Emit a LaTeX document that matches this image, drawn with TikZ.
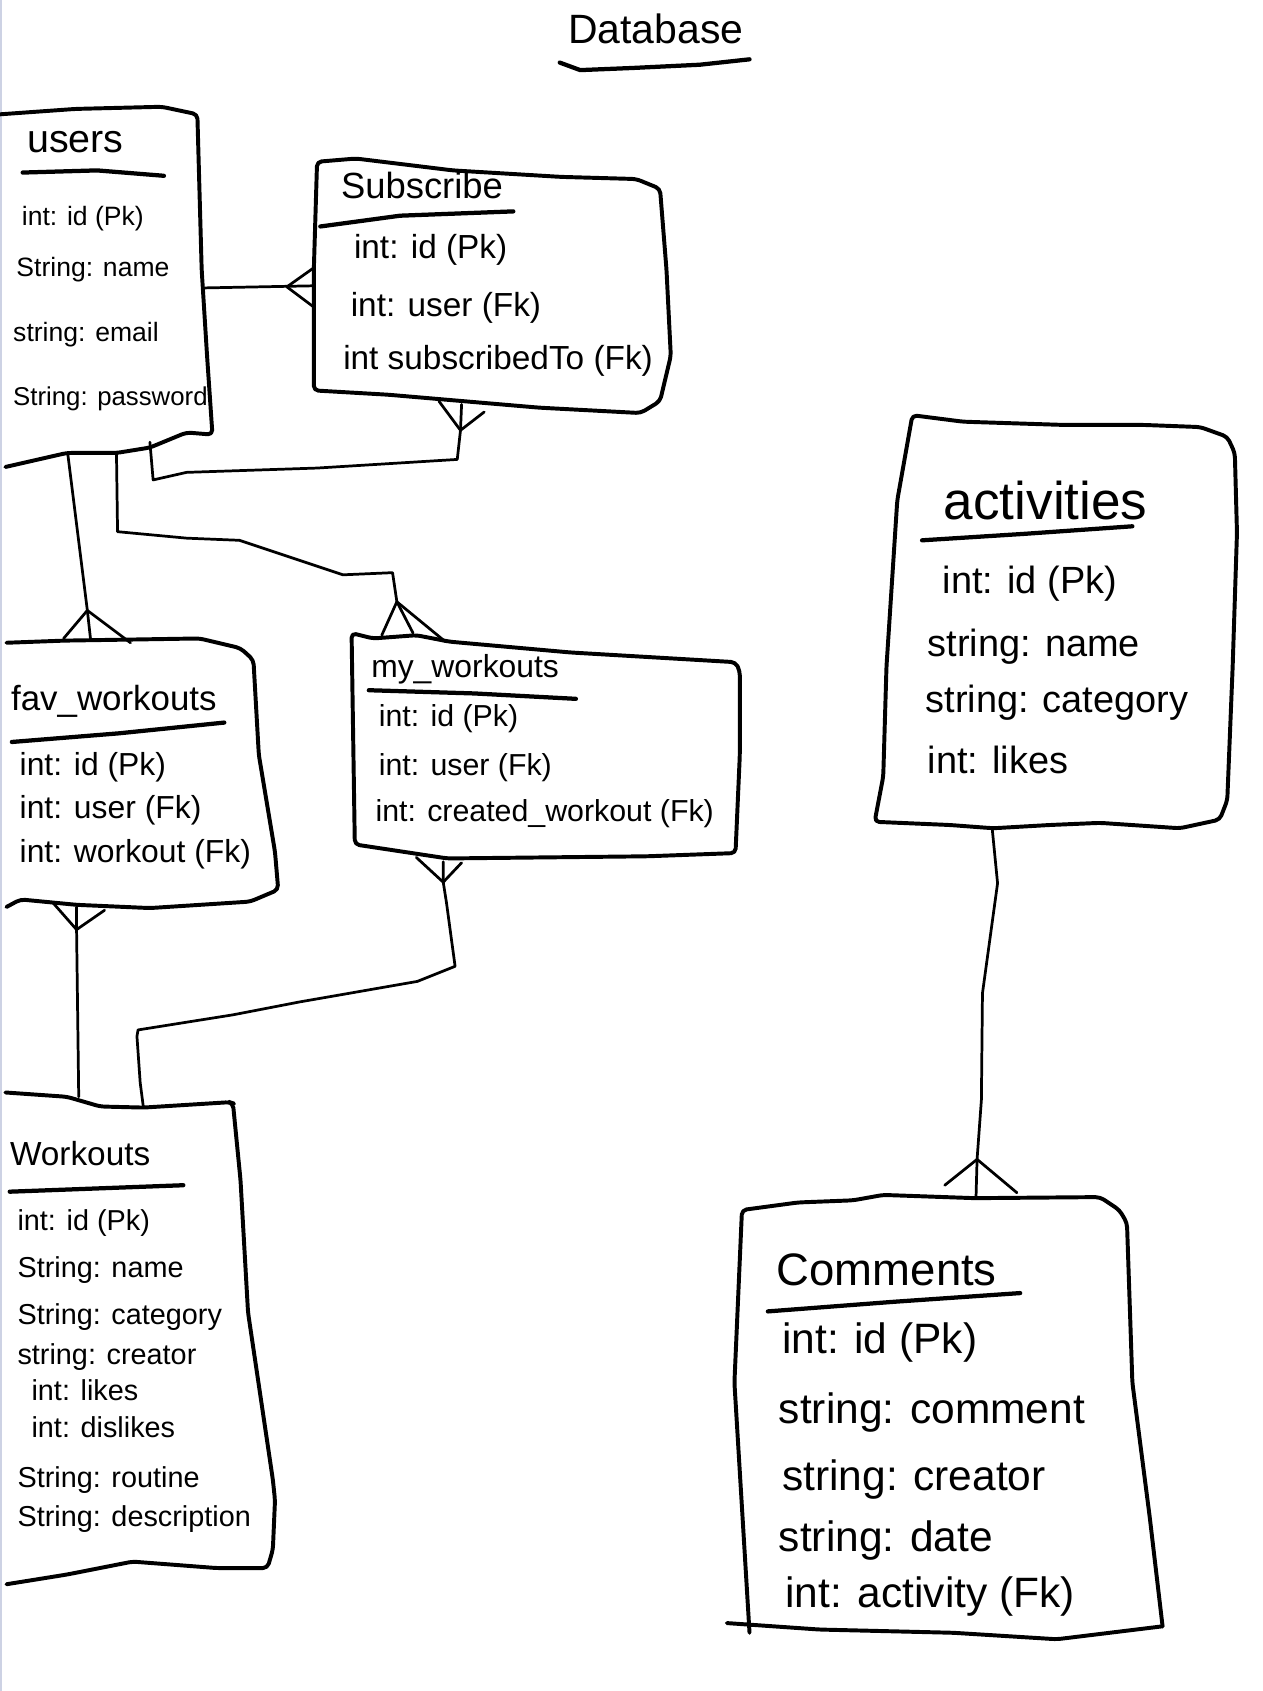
\documentclass[tikz,border=0pt]{standalone}
\usepackage{fontspec}
\setmainfont{Liberation Sans}
\definecolor{pageedge}{RGB}{205,210,228}
\newcommand{\dbsize}[1]{\fontsize{#1}{#1}\selectfont}

\begin{document}
\begin{tikzpicture}[x=0.025cm, y=-0.025cm,
    box/.style={line width=2.6pt, line join=round, line cap=round, rounded corners=3pt},
    link/.style={line width=1.8pt, line join=round, line cap=round},
    uline/.style={line width=2.8pt, line cap=round, line join=round},
    field/.style={anchor=west, inner sep=0pt}]

        \path[use as bounding box] (0,0) rectangle (1171,1568);
        \draw[pageedge, line width=1.5pt] (1,0) -- (1,1568);

        \node[inner sep=0pt] (title) at (608,27) {\dbsize{27}Database};
        \draw[uline] (519,58) -- (538,65) -- (587,63) -- (649,60) -- (695,55);

        \draw[box] (0,106) -- (70,101) -- (150,99) -- (183,106) -- (187,250) -- (192,330) -- (197,403) -- (173,401) -- (139,415) -- (108,420) -- (62,420) -- (5,433);
        \node[field] (users) at (25,132) {\dbsize{26}users};
        \draw[uline] (21,160) -- (90,158) -- (152,163);
        \node[field] (users-id) at (20,203) {\dbsize{17.5}int: id (Pk)};
        \node[field] (users-name) at (15,250) {\dbsize{17.5}String: name};
        \node[field] (users-email) at (12,310) {\dbsize{17.5}string: email};
        \node[field] (users-pass) at (12,370) {\dbsize{17}String: password};

        \draw[box] (291,362) -- (291,250) -- (294,150) -- (330,147) -- (420,158) -- (520,164) -- (590,166) -- (612,175) -- (618,250) -- (622,330) -- (612,372) -- (594,383) -- (500,378) -- (430,372) -- (360,366) -- cycle;
        \node[field] (sub) at (316,172) {\dbsize{24}Subscribe};
        \draw[uline] (297,210) -- (371,200) -- (476,196);
        \node[field] (sub-id) at (328,232) {\dbsize{22}int: id (Pk)};
        \node[field] (sub-user) at (325,285) {\dbsize{22}int: user (Fk)};
        \node[field] (sub-to) at (318,335) {\dbsize{22}int subscribedTo (Fk)};

        \draw[box] (6,596) -- (60,594) -- (123,593) -- (185,592) -- (223,601) -- (235,612) -- (240,700) -- (255,790) -- (258,825) -- (232,836) -- (139,842) -- (71,839) -- (19,834) -- (6,841);
        \node[field] (fav) at (10,650) {\dbsize{23}fav\_workouts};
        \draw[uline] (11,688) -- (110,680) -- (208,670);
        \node[field] (fav-id) at (18,711) {\dbsize{21}int: id (Pk)};
        \node[field] (fav-user) at (18,751) {\dbsize{21}int: user (Fk)};
        \node[field] (fav-work) at (18,792) {\dbsize{21}int: workout (Fk)};

        \draw[box] (329,783) -- (326,587) -- (346,592) -- (386,589) -- (417,595) -- (529,605) -- (682,614) -- (686,622) -- (686,700) -- (682,791) -- (600,794) -- (415,796) -- cycle;
        \node[field] (my) at (344,621) {\dbsize{21}my\_workouts};
        \draw[uline] (342,640) -- (440,643) -- (534,648);
        \node[field] (my-id) at (351,666) {\dbsize{20}int: id (Pk)};
        \node[field] (my-user) at (351,712) {\dbsize{20}int: user (Fk)};
        \node[field] (my-made) at (348,754) {\dbsize{20}int: created\_workout (Fk)};

        \draw[box] (5,1013) -- (62,1017) -- (93,1026) -- (133,1027) -- (213,1022) -- (216,1023) -- (223,1094) -- (230,1217) -- (253,1372) -- (255,1391) -- (253,1437) -- (248,1454) -- (201,1454) -- (123,1448) -- (62,1460) -- (6,1469);
        \node[field] (work) at (9,1070) {\dbsize{22}Workouts};
        \draw[uline] (9,1105) -- (170,1099);
        \node[field] (work-id) at (16,1134) {\dbsize{19}int: id (Pk)};
        \node[field] (work-name) at (16,1178) {\dbsize{19}String: name};
        \node[field] (work-cat) at (16,1221) {\dbsize{19}String: category};
        \node[field] (work-crea) at (16,1258) {\dbsize{19}string: creator};
        \node[field] (work-like) at (29,1289) {\dbsize{19}int: likes};
        \node[field] (work-dis) at (29,1323) {\dbsize{19}int: dislikes};
        \node[field] (work-rout) at (16,1372) {\dbsize{19}String: routine};
        \node[field] (work-desc) at (16,1409) {\dbsize{19}String: description};

        \draw[box] (846,385) -- (893,391) -- (986,394) -- (1060,394) -- (1113,396) -- (1138,405) -- (1145,420) -- (1147,494) -- (1143,618) -- (1138,742) -- (1131,760) -- (1094,768) -- (1020,763) -- (973,765) -- (921,768) -- (881,765) -- (811,762) -- (819,720) -- (822,618) -- (832,464) -- cycle;
        \node[field] (act) at (875,464) {\dbsize{35}activities};
        \draw[uline] (855,501) -- (950,495) -- (1050,488);
        \node[field] (act-id) at (874,541) {\dbsize{25}int: id (Pk)};
        \node[field] (act-name) at (860,600) {\dbsize{25}string: name};
        \node[field] (act-cat) at (858,652) {\dbsize{25}string: category};
        \node[field] (act-like) at (860,705) {\dbsize{25}int: likes};

        \draw[box] (1078,1508) -- (980,1520) -- (884,1514) -- (760,1511) -- (674,1505);
        \draw[box] (695,1514) -- (681,1282) -- (688,1122) -- (740,1115) -- (791,1113) -- (819,1108) -- (904,1111) -- (1020,1110) -- (1038,1122) -- (1045,1134) -- (1050,1282) -- (1066,1406) -- (1078,1508);
        \node[field] (com) at (720,1177) {\dbsize{30}Comments};
        \draw[uline] (712,1216) -- (830,1207) -- (946,1199);
        \node[field] (com-id) at (725,1245) {\dbsize{28}int: id (Pk)};
        \node[field] (com-text) at (722,1310) {\dbsize{28}string: comment};
        \node[field] (com-crea) at (725,1372) {\dbsize{28}string: creator};
        \node[field] (com-date) at (722,1428) {\dbsize{28}string: date};
        \node[field] (com-act) at (728,1480) {\dbsize{28}int: activity (Fk)};

        \coordinate (users-r) at (188,267);
        \coordinate (sub-l) at (291,265);
        \coordinate (sub-lf) at (266,266);
        \draw[link] (users-r) -- (sub-l);
        \draw[link] (sub-lf) -- (290,249) (sub-lf) -- (290,284);

        \coordinate (users-c) at (139,410);
        \coordinate (sub-b) at (428,375);
        \coordinate (sub-bf) at (427,399);
        \draw[link] (users-c) -- (142,445) -- (173,438) -- (294,434) -- (424,426) -- (sub-bf) -- (sub-b);
        \draw[link] (sub-bf) -- (407,372) (sub-bf) -- (449,382);

        \coordinate (users-a) at (63,422);
        \coordinate (fav-t) at (84,593);
        \coordinate (fav-tf) at (81,566);
        \draw[link] (users-a) -- (fav-tf) -- (fav-t);
        \draw[link] (fav-tf) -- (59,592) (fav-tf) -- (121,596);

        \coordinate (users-b) at (108,420);
        \coordinate (my-t) at (383,587);
        \coordinate (my-tf) at (368,558);
        \draw[link] (users-b) -- (109,493) -- (173,499) -- (222,501) -- (318,533) -- (364,531) -- (my-tf) -- (my-t);
        \draw[link] (my-tf) -- (354,589) (my-tf) -- (413,595);

        \coordinate (fav-b) at (71,841);
        \coordinate (fav-bf) at (71,862);
        \coordinate (work-a) at (73,1017);
        \draw[link] (fav-b) -- (fav-bf) -- (work-a);
        \draw[link] (fav-bf) -- (49,837) (fav-bf) -- (97,844);

        \coordinate (my-b) at (411,799);
        \coordinate (my-bf) at (411,818);
        \coordinate (work-b) at (133,1027);
        \draw[link] (my-b) -- (my-bf) -- (414,837) -- (419,874) -- (422,896) -- (387,910) -- (324,921) -- (278,929) -- (216,941) -- (128,955) -- (127,961) -- (130,1004) -- (work-b);
        \draw[link] (my-bf) -- (386,795) (my-bf) -- (428,800);

        \coordinate (act-b) at (920,768);
        \coordinate (com-t) at (905,1111);
        \coordinate (com-tf) at (906,1075);
        \draw[link] (act-b) -- (925,819) -- (911,921) -- (910,1020) -- (com-tf) -- (com-t);
        \draw[link] (com-tf) -- (876,1099) (com-tf) -- (943,1106);

\end{tikzpicture}
\end{document}
